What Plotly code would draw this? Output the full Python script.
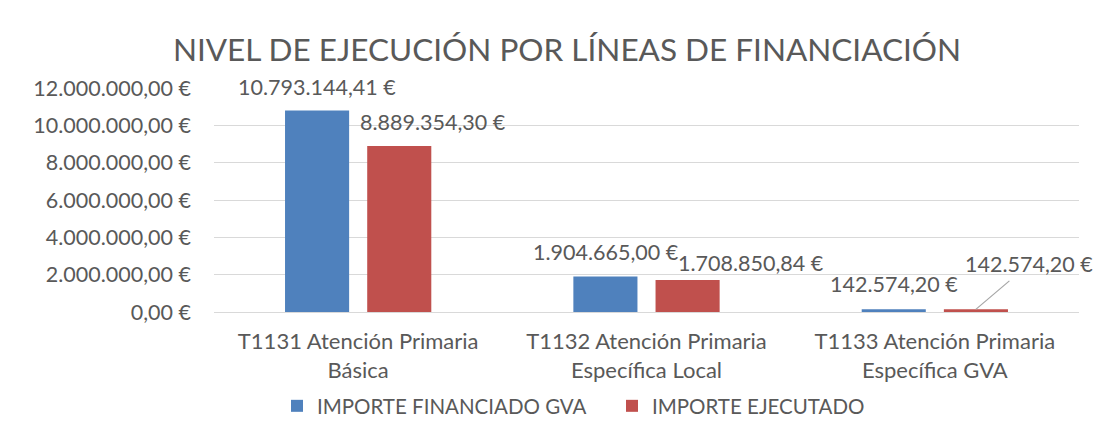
import plotly.graph_objects as go

categories = ["T1131 Atención Primaria<br>Básica",
              "T1132 Atención Primaria<br>Específica Local",
              "T1133 Atención Primaria<br>Específica GVA"]
financiado = [10793144.41, 1904665.00, 142574.20]
ejecutado = [8889354.30, 1708850.84, 142574.20]
financiado_labels = ["10.793.144,41 €", "1.904.665,00 €", "142.574,20 €"]
ejecutado_labels = ["8.889.354,30 €", "1.708.850,84 €", "142.574,20 €"]
y_tickvals = [0, 2000000, 4000000, 6000000, 8000000, 10000000, 12000000]
y_ticktext = ["0,00 €", "2.000.000,00 €", "4.000.000,00 €", "6.000.000,00 €",
              "8.000.000,00 €", "10.000.000,00 €", "12.000.000,00 €"]

BLUE = "#4F81BD"
RED = "#C0504D"
TXT = "#595959"
FONT = "Lato, Carlito, Calibri, sans-serif"

# page body has an 8px margin on every side; figure fits exactly inside the window
W, H = 1102, 421

fig = go.Figure()
fig.add_trace(go.Bar(name="IMPORTE FINANCIADO GVA", x=categories, y=financiado,
                     marker=dict(color=BLUE, line=dict(width=0))))
fig.add_trace(go.Bar(name="IMPORTE EJECUTADO", x=categories, y=ejecutado,
                     marker=dict(color=RED, line=dict(width=0))))

# data label offsets (pixels) relative to category centre / bar top
fin_off = [(-41, 24), (-41, 24), (-41, 25)]
eje_off = [(75, 24), (104, 17), None]
LBL = dict(family=FONT, size=21.5, color=TXT)
for i, c in enumerate(categories):
    dx, dy = fin_off[i]
    fig.add_annotation(x=c, y=financiado[i], xref="x", yref="y", text=financiado_labels[i],
                       showarrow=False, xshift=dx, yshift=dy, font=LBL)
    if eje_off[i] is not None:
        dx, dy = eje_off[i]
        fig.add_annotation(x=c, y=ejecutado[i], xref="x", yref="y", text=ejecutado_labels[i],
                           showarrow=False, xshift=dx, yshift=dy, font=LBL)
    else:
        fig.add_annotation(x=c, y=ejecutado[i], xref="x", yref="y", text=ejecutado_labels[i],
                           showarrow=True, arrowhead=0, arrowwidth=1.2, arrowcolor="#A6A6A6",
                           xshift=41, ax=53, ay=-45, borderpad=3, font=LBL)

# outer chart border (top and left edges visible)
fig.add_shape(type="rect", xref="paper", yref="paper", x0=-0.2393, x1=1.2, y0=-0.8, y1=1.3616,
              line=dict(color="#D9D9D9", width=1.5), fillcolor="rgba(0,0,0,0)", layer="below")

fig.update_layout(
    width=W, height=H,
    margin=dict(l=206, r=31, t=80, b=117, autoexpand=False),
    paper_bgcolor="white", plot_bgcolor="white",
    font=dict(family=FONT, color=TXT, size=21.5),
    title=dict(text="NIVEL DE EJECUCIÓN POR LÍNEAS DE FINANCIACIÓN",
               x=559 / W, xref="container", xanchor="center",
               y=1 - 42 / H, yref="container", yanchor="middle",
               font=dict(family=FONT, size=31.5, color=TXT)),
    barmode="group", bargap=0.43, bargroupgap=0.22,
    showlegend=True,
    legend=dict(orientation="h", xref="container", yref="container",
                x=269 / W, xanchor="left", y=1 - 398 / H, yanchor="middle",
                font=dict(family=FONT, size=20.5, color=TXT),
                itemwidth=30, tracegroupgap=0, entrywidth=290, entrywidthmode="pixels"),
    xaxis=dict(range=[-0.5, 2.5], autorange=False, showline=False, ticks="",
               tickfont=dict(family=FONT, size=22, color=TXT),
               ticklabelstandoff=14, automargin=False),
    yaxis=dict(range=[0, 12000000], autorange=False, tickvals=y_tickvals, ticktext=y_ticktext,
               showgrid=True, gridcolor="#D9D9D9", gridwidth=1.3, zeroline=True,
               zerolinecolor="#D9D9D9", zerolinewidth=1.3, showline=False, ticks="",
               ticklabelstandoff=22, automargin=False,
               tickfont=dict(family=FONT, size=21.5, color=TXT)),
)

fig.write_html("out.html")
